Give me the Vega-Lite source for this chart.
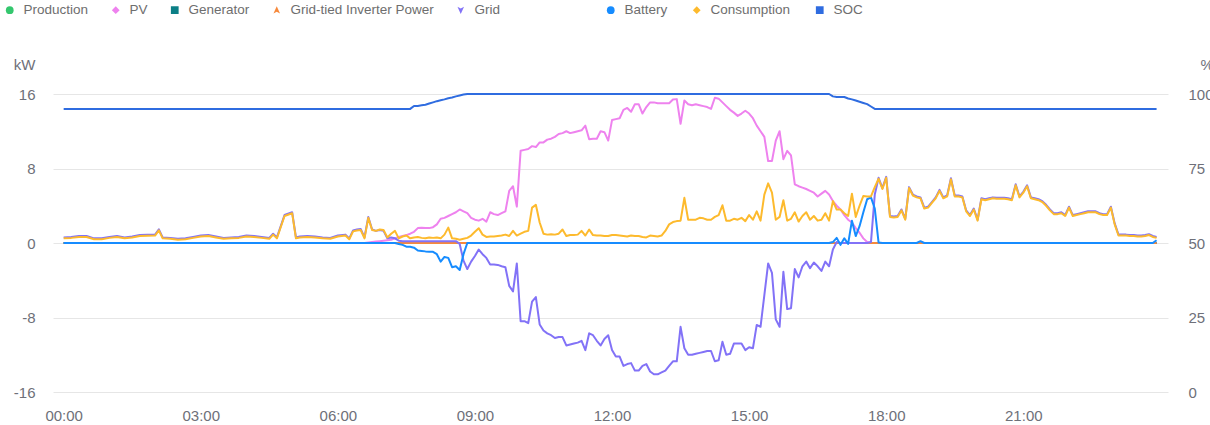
{
"$schema":"https://vega.github.io/schema/vega-lite/v6.json",
"width":1115,"height":298,
"autosize":{"type":"none"},
"padding":{"left":53,"top":94,"right":42,"bottom":33},
"background":"white",
"config":{"view":{"stroke":null},"font":"Liberation Sans",
 "axis":{"labelFont":"Liberation Sans","titleFont":"Liberation Sans","labelColor":"#6E7079","titleColor":"#6E7079","titleFontWeight":"normal","labelFontSize":15,"titleFontSize":15,"domain":false,"ticks":false,"tickSize":0},
 "legend":{"labelFont":"Liberation Sans"}},
"data":{"values":[
{"t":"2024-01-01T00:00","Production":0,"PV":0,"Generator":0,"GTI":0,"Grid":0.6,"Battery":0,"Consumption":0.5,"SOC":95},
{"t":"2024-01-01T00:10","Production":0,"PV":0,"Generator":0,"GTI":0,"Grid":0.65,"Battery":0,"Consumption":0.55,"SOC":95},
{"t":"2024-01-01T00:20","Production":0,"PV":0,"Generator":0,"GTI":0,"Grid":0.75,"Battery":0,"Consumption":0.65,"SOC":95},
{"t":"2024-01-01T00:30","Production":0,"PV":0,"Generator":0,"GTI":0,"Grid":0.75,"Battery":0,"Consumption":0.65,"SOC":95},
{"t":"2024-01-01T00:40","Production":0,"PV":0,"Generator":0,"GTI":0,"Grid":0.5,"Battery":0,"Consumption":0.4,"SOC":95},
{"t":"2024-01-01T00:50","Production":0,"PV":0,"Generator":0,"GTI":0,"Grid":0.5,"Battery":0,"Consumption":0.4,"SOC":95},
{"t":"2024-01-01T01:00","Production":0,"PV":0,"Generator":0,"GTI":0,"Grid":0.65,"Battery":0,"Consumption":0.55,"SOC":95},
{"t":"2024-01-01T01:10","Production":0,"PV":0,"Generator":0,"GTI":0,"Grid":0.75,"Battery":0,"Consumption":0.65,"SOC":95},
{"t":"2024-01-01T01:20","Production":0,"PV":0,"Generator":0,"GTI":0,"Grid":0.6,"Battery":0,"Consumption":0.5,"SOC":95},
{"t":"2024-01-01T01:30","Production":0,"PV":0,"Generator":0,"GTI":0,"Grid":0.7,"Battery":0,"Consumption":0.6,"SOC":95},
{"t":"2024-01-01T01:40","Production":0,"PV":0,"Generator":0,"GTI":0,"Grid":0.85,"Battery":0,"Consumption":0.75,"SOC":95},
{"t":"2024-01-01T01:50","Production":0,"PV":0,"Generator":0,"GTI":0,"Grid":0.88,"Battery":0,"Consumption":0.78,"SOC":95},
{"t":"2024-01-01T02:00","Production":0,"PV":0,"Generator":0,"GTI":0,"Grid":0.9,"Battery":0,"Consumption":0.8,"SOC":95},
{"t":"2024-01-01T02:05","Production":0,"PV":0,"Generator":0,"GTI":0,"Grid":1.46,"Battery":0,"Consumption":1.36,"SOC":95},
{"t":"2024-01-01T02:10","Production":0,"PV":0,"Generator":0,"GTI":0,"Grid":0.6,"Battery":0,"Consumption":0.5,"SOC":95},
{"t":"2024-01-01T02:20","Production":0,"PV":0,"Generator":0,"GTI":0,"Grid":0.55,"Battery":0,"Consumption":0.45,"SOC":95},
{"t":"2024-01-01T02:30","Production":0,"PV":0,"Generator":0,"GTI":0,"Grid":0.45,"Battery":0,"Consumption":0.35,"SOC":95},
{"t":"2024-01-01T02:40","Production":0,"PV":0,"Generator":0,"GTI":0,"Grid":0.5,"Battery":0,"Consumption":0.4,"SOC":95},
{"t":"2024-01-01T02:50","Production":0,"PV":0,"Generator":0,"GTI":0,"Grid":0.65,"Battery":0,"Consumption":0.55,"SOC":95},
{"t":"2024-01-01T03:00","Production":0,"PV":0,"Generator":0,"GTI":0,"Grid":0.8,"Battery":0,"Consumption":0.7,"SOC":95},
{"t":"2024-01-01T03:10","Production":0,"PV":0,"Generator":0,"GTI":0,"Grid":0.85,"Battery":0,"Consumption":0.75,"SOC":95},
{"t":"2024-01-01T03:20","Production":0,"PV":0,"Generator":0,"GTI":0,"Grid":0.7,"Battery":0,"Consumption":0.6,"SOC":95},
{"t":"2024-01-01T03:30","Production":0,"PV":0,"Generator":0,"GTI":0,"Grid":0.55,"Battery":0,"Consumption":0.45,"SOC":95},
{"t":"2024-01-01T03:40","Production":0,"PV":0,"Generator":0,"GTI":0,"Grid":0.6,"Battery":0,"Consumption":0.5,"SOC":95},
{"t":"2024-01-01T03:50","Production":0,"PV":0,"Generator":0,"GTI":0,"Grid":0.65,"Battery":0,"Consumption":0.55,"SOC":95},
{"t":"2024-01-01T04:00","Production":0,"PV":0,"Generator":0,"GTI":0,"Grid":0.8,"Battery":0,"Consumption":0.7,"SOC":95},
{"t":"2024-01-01T04:10","Production":0,"PV":0,"Generator":0,"GTI":0,"Grid":0.75,"Battery":0,"Consumption":0.65,"SOC":95},
{"t":"2024-01-01T04:20","Production":0,"PV":0,"Generator":0,"GTI":0,"Grid":0.65,"Battery":0,"Consumption":0.55,"SOC":95},
{"t":"2024-01-01T04:30","Production":0,"PV":0,"Generator":0,"GTI":0,"Grid":0.55,"Battery":0,"Consumption":0.45,"SOC":95},
{"t":"2024-01-01T04:35","Production":0,"PV":0,"Generator":0,"GTI":0,"Grid":1.0,"Battery":0,"Consumption":0.9,"SOC":95},
{"t":"2024-01-01T04:40","Production":0,"PV":0,"Generator":0,"GTI":0,"Grid":0.6,"Battery":0,"Consumption":0.5,"SOC":95},
{"t":"2024-01-01T04:50","Production":0,"PV":0,"Generator":0,"GTI":0,"Grid":3.0,"Battery":0,"Consumption":2.9,"SOC":95},
{"t":"2024-01-01T05:00","Production":0,"PV":0,"Generator":0,"GTI":0,"Grid":3.3,"Battery":0,"Consumption":3.2,"SOC":95},
{"t":"2024-01-01T05:05","Production":0,"PV":0,"Generator":0,"GTI":0,"Grid":0.6,"Battery":0,"Consumption":0.5,"SOC":95},
{"t":"2024-01-01T05:10","Production":0,"PV":0,"Generator":0,"GTI":0,"Grid":0.7,"Battery":0,"Consumption":0.6,"SOC":95},
{"t":"2024-01-01T05:20","Production":0,"PV":0,"Generator":0,"GTI":0,"Grid":0.75,"Battery":0,"Consumption":0.65,"SOC":95},
{"t":"2024-01-01T05:30","Production":0,"PV":0,"Generator":0,"GTI":0,"Grid":0.7,"Battery":0,"Consumption":0.6,"SOC":95},
{"t":"2024-01-01T05:40","Production":0,"PV":0,"Generator":0,"GTI":0,"Grid":0.6,"Battery":0,"Consumption":0.5,"SOC":95},
{"t":"2024-01-01T05:50","Production":0,"PV":0,"Generator":0,"GTI":0,"Grid":0.55,"Battery":0,"Consumption":0.45,"SOC":95},
{"t":"2024-01-01T06:00","Production":0,"PV":0,"Generator":0,"GTI":0,"Grid":0.8,"Battery":0,"Consumption":0.7,"SOC":95},
{"t":"2024-01-01T06:10","Production":0,"PV":0,"Generator":0,"GTI":0,"Grid":0.9,"Battery":0,"Consumption":0.8,"SOC":95},
{"t":"2024-01-01T06:15","Production":0,"PV":0,"Generator":0,"GTI":0,"Grid":0.5,"Battery":0,"Consumption":0.4,"SOC":95},
{"t":"2024-01-01T06:20","Production":0,"PV":0,"Generator":0,"GTI":0,"Grid":1.35,"Battery":0,"Consumption":1.25,"SOC":95},
{"t":"2024-01-01T06:25","Production":0,"PV":0,"Generator":0,"GTI":0,"Grid":1.45,"Battery":0,"Consumption":1.35,"SOC":95},
{"t":"2024-01-01T06:30","Production":0,"PV":0,"Generator":0,"GTI":0,"Grid":1.5,"Battery":0,"Consumption":1.4,"SOC":95},
{"t":"2024-01-01T06:35","Production":0,"PV":0,"Generator":0,"GTI":0,"Grid":0.6,"Battery":0,"Consumption":0.5,"SOC":95},
{"t":"2024-01-01T06:40","Production":0,"PV":0.05,"Generator":0,"GTI":0,"Grid":2.8,"Battery":0,"Consumption":2.7,"SOC":95},
{"t":"2024-01-01T06:45","Production":0,"PV":0.1,"Generator":0,"GTI":0,"Grid":1.45,"Battery":0,"Consumption":1.4,"SOC":95},
{"t":"2024-01-01T06:50","Production":0,"PV":0.15,"Generator":0,"GTI":0,"Grid":1.3,"Battery":0,"Consumption":1.3,"SOC":95},
{"t":"2024-01-01T06:55","Production":0,"PV":0.2,"Generator":0,"GTI":0,"Grid":1.4,"Battery":0,"Consumption":1.45,"SOC":95},
{"t":"2024-01-01T07:00","Production":0,"PV":0.25,"Generator":0,"GTI":0,"Grid":1.3,"Battery":0,"Consumption":1.4,"SOC":95},
{"t":"2024-01-01T07:05","Production":0,"PV":0.3,"Generator":0,"GTI":0,"Grid":0.5,"Battery":0,"Consumption":0.6,"SOC":95},
{"t":"2024-01-01T07:10","Production":0,"PV":0.35,"Generator":0,"GTI":0,"Grid":0.6,"Battery":0,"Consumption":1.0,"SOC":95},
{"t":"2024-01-01T07:15","Production":0,"PV":0.5,"Generator":0,"GTI":0,"Grid":0.5,"Battery":0,"Consumption":1.3,"SOC":95},
{"t":"2024-01-01T07:20","Production":0,"PV":0.65,"Generator":0,"GTI":0,"Grid":0.25,"Battery":-0.1,"Consumption":0.5,"SOC":95},
{"t":"2024-01-01T07:25","Production":0,"PV":0.75,"Generator":0,"GTI":0,"Grid":0.2,"Battery":-0.2,"Consumption":0.7,"SOC":95},
{"t":"2024-01-01T07:30","Production":0,"PV":0.85,"Generator":0,"GTI":0,"Grid":0.2,"Battery":-0.4,"Consumption":0.8,"SOC":95},
{"t":"2024-01-01T07:35","Production":0,"PV":1.0,"Generator":0,"GTI":0,"Grid":0.2,"Battery":-0.4,"Consumption":0.5,"SOC":95},
{"t":"2024-01-01T07:40","Production":0,"PV":1.2,"Generator":0,"GTI":0,"Grid":0.2,"Battery":-0.5,"Consumption":0.6,"SOC":96},
{"t":"2024-01-01T07:45","Production":0,"PV":1.6,"Generator":0,"GTI":0,"Grid":0.2,"Battery":-0.8,"Consumption":0.65,"SOC":96},
{"t":"2024-01-01T07:50","Production":0,"PV":1.65,"Generator":0,"GTI":0,"Grid":0.2,"Battery":-0.85,"Consumption":0.55,"SOC":96.2},
{"t":"2024-01-01T07:55","Production":0,"PV":1.6,"Generator":0,"GTI":0,"Grid":0.2,"Battery":-0.9,"Consumption":0.5,"SOC":96.4},
{"t":"2024-01-01T08:00","Production":0,"PV":1.6,"Generator":0,"GTI":0,"Grid":0.2,"Battery":-0.93,"Consumption":0.6,"SOC":96.8},
{"t":"2024-01-01T08:05","Production":0,"PV":1.7,"Generator":0,"GTI":0,"Grid":0.2,"Battery":-0.95,"Consumption":0.55,"SOC":97.2},
{"t":"2024-01-01T08:10","Production":0,"PV":2.0,"Generator":0,"GTI":0,"Grid":0.2,"Battery":-1.2,"Consumption":0.6,"SOC":97.6},
{"t":"2024-01-01T08:15","Production":0,"PV":2.6,"Generator":0,"GTI":0,"Grid":0.2,"Battery":-2.0,"Consumption":0.5,"SOC":97.9},
{"t":"2024-01-01T08:20","Production":0,"PV":2.7,"Generator":0,"GTI":0,"Grid":0.2,"Battery":-1.5,"Consumption":0.9,"SOC":98.2},
{"t":"2024-01-01T08:25","Production":0,"PV":2.9,"Generator":0,"GTI":0,"Grid":0.2,"Battery":-1.6,"Consumption":1.65,"SOC":98.6},
{"t":"2024-01-01T08:30","Production":0,"PV":3.1,"Generator":0,"GTI":0,"Grid":0.2,"Battery":-2.6,"Consumption":0.5,"SOC":98.8},
{"t":"2024-01-01T08:35","Production":0,"PV":3.3,"Generator":0,"GTI":0,"Grid":0.2,"Battery":-2.5,"Consumption":0.45,"SOC":99.2},
{"t":"2024-01-01T08:40","Production":0,"PV":3.6,"Generator":0,"GTI":0,"Grid":-0.1,"Battery":-2.9,"Consumption":0.35,"SOC":99.5},
{"t":"2024-01-01T08:45","Production":0,"PV":3.4,"Generator":0,"GTI":0,"Grid":-1.9,"Battery":-1.2,"Consumption":0.45,"SOC":99.8},
{"t":"2024-01-01T08:50","Production":0,"PV":3.2,"Generator":0,"GTI":0,"Grid":-2.8,"Battery":0,"Consumption":0.55,"SOC":100},
{"t":"2024-01-01T08:55","Production":0,"PV":2.7,"Generator":0,"GTI":0,"Grid":-2.0,"Battery":0,"Consumption":0.8,"SOC":100},
{"t":"2024-01-01T09:00","Production":0,"PV":2.5,"Generator":0,"GTI":0,"Grid":-1.4,"Battery":0,"Consumption":1.2,"SOC":100},
{"t":"2024-01-01T09:05","Production":0,"PV":2.4,"Generator":0,"GTI":0,"Grid":-0.7,"Battery":0,"Consumption":1.58,"SOC":100},
{"t":"2024-01-01T09:10","Production":0,"PV":2.6,"Generator":0,"GTI":0,"Grid":-1.2,"Battery":0,"Consumption":0.9,"SOC":100},
{"t":"2024-01-01T09:15","Production":0,"PV":2.3,"Generator":0,"GTI":0,"Grid":-1.6,"Battery":0,"Consumption":0.65,"SOC":100},
{"t":"2024-01-01T09:20","Production":0,"PV":3.3,"Generator":0,"GTI":0,"Grid":-2.3,"Battery":0,"Consumption":0.7,"SOC":100},
{"t":"2024-01-01T09:25","Production":0,"PV":3.1,"Generator":0,"GTI":0,"Grid":-2.3,"Battery":0,"Consumption":0.7,"SOC":100},
{"t":"2024-01-01T09:30","Production":0,"PV":3.0,"Generator":0,"GTI":0,"Grid":-2.35,"Battery":0,"Consumption":0.75,"SOC":100},
{"t":"2024-01-01T09:35","Production":0,"PV":3.2,"Generator":0,"GTI":0,"Grid":-2.5,"Battery":0,"Consumption":0.8,"SOC":100},
{"t":"2024-01-01T09:40","Production":0,"PV":3.4,"Generator":0,"GTI":0,"Grid":-2.6,"Battery":0,"Consumption":0.9,"SOC":100},
{"t":"2024-01-01T09:45","Production":0,"PV":5.6,"Generator":0,"GTI":0,"Grid":-4.6,"Battery":0,"Consumption":0.75,"SOC":100},
{"t":"2024-01-01T09:50","Production":0,"PV":6.1,"Generator":0,"GTI":0,"Grid":-5.2,"Battery":0,"Consumption":1.3,"SOC":100},
{"t":"2024-01-01T09:55","Production":0,"PV":3.9,"Generator":0,"GTI":0,"Grid":-2.2,"Battery":0,"Consumption":0.8,"SOC":100},
{"t":"2024-01-01T10:00","Production":0,"PV":9.9,"Generator":0,"GTI":0,"Grid":-8.4,"Battery":0,"Consumption":1.0,"SOC":100},
{"t":"2024-01-01T10:05","Production":0,"PV":10.0,"Generator":0,"GTI":0,"Grid":-8.4,"Battery":0,"Consumption":1.2,"SOC":100},
{"t":"2024-01-01T10:10","Production":0,"PV":10.1,"Generator":0,"GTI":0,"Grid":-8.6,"Battery":0,"Consumption":1.3,"SOC":100},
{"t":"2024-01-01T10:15","Production":0,"PV":10.4,"Generator":0,"GTI":0,"Grid":-6.3,"Battery":0,"Consumption":3.8,"SOC":100},
{"t":"2024-01-01T10:20","Production":0,"PV":10.3,"Generator":0,"GTI":0,"Grid":-5.8,"Battery":0,"Consumption":4.1,"SOC":100},
{"t":"2024-01-01T10:25","Production":0,"PV":10.8,"Generator":0,"GTI":0,"Grid":-8.75,"Battery":0,"Consumption":2.2,"SOC":100},
{"t":"2024-01-01T10:30","Production":0,"PV":10.8,"Generator":0,"GTI":0,"Grid":-9.4,"Battery":0,"Consumption":1.0,"SOC":100},
{"t":"2024-01-01T10:35","Production":0,"PV":11.1,"Generator":0,"GTI":0,"Grid":-9.7,"Battery":0,"Consumption":0.9,"SOC":100},
{"t":"2024-01-01T10:40","Production":0,"PV":11.2,"Generator":0,"GTI":0,"Grid":-9.9,"Battery":0,"Consumption":0.95,"SOC":100},
{"t":"2024-01-01T10:45","Production":0,"PV":11.4,"Generator":0,"GTI":0,"Grid":-10.2,"Battery":0,"Consumption":0.9,"SOC":100},
{"t":"2024-01-01T10:50","Production":0,"PV":11.7,"Generator":0,"GTI":0,"Grid":-10.1,"Battery":0,"Consumption":1.0,"SOC":100},
{"t":"2024-01-01T10:55","Production":0,"PV":11.8,"Generator":0,"GTI":0,"Grid":-10.1,"Battery":0,"Consumption":1.45,"SOC":100},
{"t":"2024-01-01T11:00","Production":0,"PV":12.0,"Generator":0,"GTI":0,"Grid":-11.0,"Battery":0,"Consumption":0.75,"SOC":100},
{"t":"2024-01-01T11:05","Production":0,"PV":11.8,"Generator":0,"GTI":0,"Grid":-10.9,"Battery":0,"Consumption":0.85,"SOC":100},
{"t":"2024-01-01T11:10","Production":0,"PV":11.9,"Generator":0,"GTI":0,"Grid":-10.8,"Battery":0,"Consumption":0.85,"SOC":100},
{"t":"2024-01-01T11:15","Production":0,"PV":12.0,"Generator":0,"GTI":0,"Grid":-10.7,"Battery":0,"Consumption":0.9,"SOC":100},
{"t":"2024-01-01T11:20","Production":0,"PV":12.1,"Generator":0,"GTI":0,"Grid":-10.5,"Battery":0,"Consumption":1.3,"SOC":100},
{"t":"2024-01-01T11:25","Production":0,"PV":12.6,"Generator":0,"GTI":0,"Grid":-11.5,"Battery":0,"Consumption":0.8,"SOC":100},
{"t":"2024-01-01T11:30","Production":0,"PV":11.15,"Generator":0,"GTI":0,"Grid":-9.7,"Battery":0,"Consumption":1.45,"SOC":100},
{"t":"2024-01-01T11:35","Production":0,"PV":11.2,"Generator":0,"GTI":0,"Grid":-9.9,"Battery":0,"Consumption":0.85,"SOC":100},
{"t":"2024-01-01T11:40","Production":0,"PV":11.2,"Generator":0,"GTI":0,"Grid":-10.5,"Battery":0,"Consumption":0.8,"SOC":100},
{"t":"2024-01-01T11:45","Production":0,"PV":12.0,"Generator":0,"GTI":0,"Grid":-11.0,"Battery":0,"Consumption":0.8,"SOC":100},
{"t":"2024-01-01T11:50","Production":0,"PV":11.9,"Generator":0,"GTI":0,"Grid":-10.3,"Battery":0,"Consumption":0.75,"SOC":100},
{"t":"2024-01-01T11:55","Production":0,"PV":11.0,"Generator":0,"GTI":0,"Grid":-9.9,"Battery":0,"Consumption":0.75,"SOC":100},
{"t":"2024-01-01T12:00","Production":0,"PV":13.2,"Generator":0,"GTI":0,"Grid":-11.5,"Battery":0,"Consumption":0.85,"SOC":100},
{"t":"2024-01-01T12:05","Production":0,"PV":13.3,"Generator":0,"GTI":0,"Grid":-12.2,"Battery":0,"Consumption":0.85,"SOC":100},
{"t":"2024-01-01T12:10","Production":0,"PV":13.4,"Generator":0,"GTI":0,"Grid":-12.2,"Battery":0,"Consumption":0.8,"SOC":100},
{"t":"2024-01-01T12:15","Production":0,"PV":14.3,"Generator":0,"GTI":0,"Grid":-13.2,"Battery":0,"Consumption":0.75,"SOC":100},
{"t":"2024-01-01T12:20","Production":0,"PV":14.5,"Generator":0,"GTI":0,"Grid":-13.0,"Battery":0,"Consumption":0.7,"SOC":100},
{"t":"2024-01-01T12:25","Production":0,"PV":14.1,"Generator":0,"GTI":0,"Grid":-12.9,"Battery":0,"Consumption":0.8,"SOC":100},
{"t":"2024-01-01T12:30","Production":0,"PV":14.9,"Generator":0,"GTI":0,"Grid":-13.7,"Battery":0,"Consumption":0.75,"SOC":100},
{"t":"2024-01-01T12:35","Production":0,"PV":14.9,"Generator":0,"GTI":0,"Grid":-13.7,"Battery":0,"Consumption":0.75,"SOC":100},
{"t":"2024-01-01T12:40","Production":0,"PV":13.9,"Generator":0,"GTI":0,"Grid":-13.2,"Battery":0,"Consumption":0.65,"SOC":100},
{"t":"2024-01-01T12:45","Production":0,"PV":14.6,"Generator":0,"GTI":0,"Grid":-13.0,"Battery":0,"Consumption":0.6,"SOC":100},
{"t":"2024-01-01T12:50","Production":0,"PV":15.1,"Generator":0,"GTI":0,"Grid":-13.8,"Battery":0,"Consumption":0.8,"SOC":100},
{"t":"2024-01-01T12:55","Production":0,"PV":15.1,"Generator":0,"GTI":0,"Grid":-14.1,"Battery":0,"Consumption":0.75,"SOC":100},
{"t":"2024-01-01T13:00","Production":0,"PV":15.0,"Generator":0,"GTI":0,"Grid":-14.1,"Battery":0,"Consumption":0.7,"SOC":100},
{"t":"2024-01-01T13:05","Production":0,"PV":15.0,"Generator":0,"GTI":0,"Grid":-13.9,"Battery":0,"Consumption":0.8,"SOC":100},
{"t":"2024-01-01T13:10","Production":0,"PV":15.0,"Generator":0,"GTI":0,"Grid":-13.7,"Battery":0,"Consumption":1.3,"SOC":100},
{"t":"2024-01-01T13:15","Production":0,"PV":15.0,"Generator":0,"GTI":0,"Grid":-13.2,"Battery":0,"Consumption":2.0,"SOC":100},
{"t":"2024-01-01T13:20","Production":0,"PV":15.4,"Generator":0,"GTI":0,"Grid":-12.7,"Battery":0,"Consumption":2.25,"SOC":100},
{"t":"2024-01-01T13:25","Production":0,"PV":15.45,"Generator":0,"GTI":0,"Grid":-12.7,"Battery":0,"Consumption":2.35,"SOC":100},
{"t":"2024-01-01T13:30","Production":0,"PV":12.8,"Generator":0,"GTI":0,"Grid":-9.0,"Battery":0,"Consumption":2.4,"SOC":100},
{"t":"2024-01-01T13:35","Production":0,"PV":15.3,"Generator":0,"GTI":0,"Grid":-11.3,"Battery":0,"Consumption":4.85,"SOC":100},
{"t":"2024-01-01T13:40","Production":0,"PV":14.9,"Generator":0,"GTI":0,"Grid":-12.0,"Battery":0,"Consumption":2.5,"SOC":100},
{"t":"2024-01-01T13:45","Production":0,"PV":14.8,"Generator":0,"GTI":0,"Grid":-12.0,"Battery":0,"Consumption":2.5,"SOC":100},
{"t":"2024-01-01T13:50","Production":0,"PV":14.9,"Generator":0,"GTI":0,"Grid":-11.9,"Battery":0,"Consumption":2.5,"SOC":100},
{"t":"2024-01-01T13:55","Production":0,"PV":14.8,"Generator":0,"GTI":0,"Grid":-11.8,"Battery":0,"Consumption":2.7,"SOC":100},
{"t":"2024-01-01T14:00","Production":0,"PV":14.7,"Generator":0,"GTI":0,"Grid":-11.7,"Battery":0,"Consumption":2.65,"SOC":100},
{"t":"2024-01-01T14:05","Production":0,"PV":14.6,"Generator":0,"GTI":0,"Grid":-11.6,"Battery":0,"Consumption":2.5,"SOC":100},
{"t":"2024-01-01T14:10","Production":0,"PV":14.4,"Generator":0,"GTI":0,"Grid":-11.6,"Battery":0,"Consumption":2.5,"SOC":100},
{"t":"2024-01-01T14:15","Production":0,"PV":15.6,"Generator":0,"GTI":0,"Grid":-12.7,"Battery":0,"Consumption":2.8,"SOC":100},
{"t":"2024-01-01T14:20","Production":0,"PV":15.5,"Generator":0,"GTI":0,"Grid":-12.6,"Battery":0,"Consumption":3.0,"SOC":100},
{"t":"2024-01-01T14:25","Production":0,"PV":15.1,"Generator":0,"GTI":0,"Grid":-10.6,"Battery":0,"Consumption":4.05,"SOC":100},
{"t":"2024-01-01T14:30","Production":0,"PV":14.7,"Generator":0,"GTI":0,"Grid":-12.0,"Battery":0,"Consumption":2.4,"SOC":100},
{"t":"2024-01-01T14:35","Production":0,"PV":14.3,"Generator":0,"GTI":0,"Grid":-11.9,"Battery":0,"Consumption":2.4,"SOC":100},
{"t":"2024-01-01T14:40","Production":0,"PV":14.0,"Generator":0,"GTI":0,"Grid":-10.8,"Battery":0,"Consumption":2.6,"SOC":100},
{"t":"2024-01-01T14:45","Production":0,"PV":13.65,"Generator":0,"GTI":0,"Grid":-10.8,"Battery":0,"Consumption":2.5,"SOC":100},
{"t":"2024-01-01T14:50","Production":0,"PV":13.9,"Generator":0,"GTI":0,"Grid":-10.8,"Battery":0,"Consumption":2.7,"SOC":100},
{"t":"2024-01-01T14:55","Production":0,"PV":14.2,"Generator":0,"GTI":0,"Grid":-11.5,"Battery":0,"Consumption":2.35,"SOC":100},
{"t":"2024-01-01T15:00","Production":0,"PV":13.9,"Generator":0,"GTI":0,"Grid":-11.2,"Battery":0,"Consumption":3.0,"SOC":100},
{"t":"2024-01-01T15:05","Production":0,"PV":13.4,"Generator":0,"GTI":0,"Grid":-11.3,"Battery":0,"Consumption":2.5,"SOC":100},
{"t":"2024-01-01T15:10","Production":0,"PV":12.6,"Generator":0,"GTI":0,"Grid":-8.8,"Battery":0,"Consumption":3.4,"SOC":100},
{"t":"2024-01-01T15:15","Production":0,"PV":12.0,"Generator":0,"GTI":0,"Grid":-9.0,"Battery":0,"Consumption":2.4,"SOC":100},
{"t":"2024-01-01T15:20","Production":0,"PV":11.4,"Generator":0,"GTI":0,"Grid":-5.6,"Battery":0,"Consumption":5.2,"SOC":100},
{"t":"2024-01-01T15:25","Production":0,"PV":8.8,"Generator":0,"GTI":0,"Grid":-2.2,"Battery":0,"Consumption":6.4,"SOC":100},
{"t":"2024-01-01T15:30","Production":0,"PV":8.8,"Generator":0,"GTI":0,"Grid":-3.2,"Battery":0,"Consumption":5.4,"SOC":100},
{"t":"2024-01-01T15:35","Production":0,"PV":11.0,"Generator":0,"GTI":0,"Grid":-8.2,"Battery":0,"Consumption":2.5,"SOC":100},
{"t":"2024-01-01T15:40","Production":0,"PV":12.0,"Generator":0,"GTI":0,"Grid":-9.0,"Battery":0,"Consumption":2.8,"SOC":100},
{"t":"2024-01-01T15:45","Production":0,"PV":9.0,"Generator":0,"GTI":0,"Grid":-3.1,"Battery":0,"Consumption":4.6,"SOC":100},
{"t":"2024-01-01T15:50","Production":0,"PV":9.9,"Generator":0,"GTI":0,"Grid":-7.1,"Battery":0,"Consumption":2.4,"SOC":100},
{"t":"2024-01-01T15:55","Production":0,"PV":9.4,"Generator":0,"GTI":0,"Grid":-7.0,"Battery":0,"Consumption":2.6,"SOC":100},
{"t":"2024-01-01T16:00","Production":0,"PV":6.3,"Generator":0,"GTI":0,"Grid":-2.8,"Battery":0,"Consumption":3.3,"SOC":100},
{"t":"2024-01-01T16:05","Production":0,"PV":6.1,"Generator":0,"GTI":0,"Grid":-3.7,"Battery":0,"Consumption":2.3,"SOC":100},
{"t":"2024-01-01T16:10","Production":0,"PV":5.95,"Generator":0,"GTI":0,"Grid":-2.5,"Battery":0,"Consumption":2.9,"SOC":100},
{"t":"2024-01-01T16:15","Production":0,"PV":5.8,"Generator":0,"GTI":0,"Grid":-2.0,"Battery":0,"Consumption":3.3,"SOC":100},
{"t":"2024-01-01T16:20","Production":0,"PV":5.6,"Generator":0,"GTI":0,"Grid":-2.7,"Battery":0,"Consumption":2.5,"SOC":100},
{"t":"2024-01-01T16:25","Production":0,"PV":5.4,"Generator":0,"GTI":0,"Grid":-2.1,"Battery":0,"Consumption":2.9,"SOC":100},
{"t":"2024-01-01T16:30","Production":0,"PV":5.0,"Generator":0,"GTI":0,"Grid":-2.5,"Battery":0,"Consumption":2.4,"SOC":100},
{"t":"2024-01-01T16:35","Production":0,"PV":5.3,"Generator":0,"GTI":0,"Grid":-3.0,"Battery":0,"Consumption":2.5,"SOC":100},
{"t":"2024-01-01T16:40","Production":0,"PV":5.6,"Generator":0,"GTI":0,"Grid":-2.0,"Battery":0,"Consumption":3.2,"SOC":100},
{"t":"2024-01-01T16:45","Production":0,"PV":5.2,"Generator":0,"GTI":0,"Grid":-2.5,"Battery":0,"Consumption":2.4,"SOC":100},
{"t":"2024-01-01T16:50","Production":0,"PV":4.5,"Generator":0,"GTI":0,"Grid":-0.7,"Battery":0.1,"Consumption":4.5,"SOC":99.2},
{"t":"2024-01-01T16:55","Production":0,"PV":4.0,"Generator":0,"GTI":0,"Grid":0.1,"Battery":0.55,"Consumption":3.6,"SOC":99},
{"t":"2024-01-01T17:00","Production":0,"PV":3.6,"Generator":0,"GTI":0,"Grid":0,"Battery":-0.2,"Consumption":3.6,"SOC":99},
{"t":"2024-01-01T17:05","Production":0,"PV":3.0,"Generator":0,"GTI":0,"Grid":0,"Battery":0.5,"Consumption":3.2,"SOC":99},
{"t":"2024-01-01T17:10","Production":0,"PV":2.5,"Generator":0,"GTI":0,"Grid":0,"Battery":-0.1,"Consumption":2.9,"SOC":98.5},
{"t":"2024-01-01T17:15","Production":0,"PV":2.2,"Generator":0,"GTI":0,"Grid":0,"Battery":2.4,"Consumption":5.3,"SOC":98.2},
{"t":"2024-01-01T17:20","Production":0,"PV":1.6,"Generator":0,"GTI":0,"Grid":0,"Battery":0.75,"Consumption":2.8,"SOC":97.8},
{"t":"2024-01-01T17:25","Production":0,"PV":1.1,"Generator":0,"GTI":0,"Grid":0,"Battery":1.8,"Consumption":4.0,"SOC":97.4},
{"t":"2024-01-01T17:30","Production":0,"PV":0.5,"Generator":0,"GTI":0,"Grid":0,"Battery":3.3,"Consumption":5.05,"SOC":97.0},
{"t":"2024-01-01T17:35","Production":0,"PV":0.1,"Generator":0,"GTI":0,"Grid":0,"Battery":4.7,"Consumption":5.0,"SOC":96.6},
{"t":"2024-01-01T17:40","Production":0,"PV":0,"Generator":0,"GTI":0,"Grid":0.1,"Battery":4.9,"Consumption":5.0,"SOC":95.8},
{"t":"2024-01-01T17:45","Production":0,"PV":0,"Generator":0,"GTI":0,"Grid":5.2,"Battery":3.7,"Consumption":6.0,"SOC":95},
{"t":"2024-01-01T17:50","Production":0,"PV":0,"Generator":0,"GTI":0,"Grid":7.0,"Battery":0.05,"Consumption":6.9,"SOC":95},
{"t":"2024-01-01T17:55","Production":0,"PV":0,"Generator":0,"GTI":0,"Grid":5.9,"Battery":0,"Consumption":5.8,"SOC":95},
{"t":"2024-01-01T18:00","Production":0,"PV":0,"Generator":0,"GTI":0,"Grid":7.1,"Battery":0,"Consumption":7.0,"SOC":95},
{"t":"2024-01-01T18:05","Production":0,"PV":0,"Generator":0,"GTI":0,"Grid":2.9,"Battery":0,"Consumption":2.8,"SOC":95},
{"t":"2024-01-01T18:10","Production":0,"PV":0,"Generator":0,"GTI":0,"Grid":2.85,"Battery":0,"Consumption":2.75,"SOC":95},
{"t":"2024-01-01T18:15","Production":0,"PV":0,"Generator":0,"GTI":0,"Grid":2.9,"Battery":0,"Consumption":2.8,"SOC":95},
{"t":"2024-01-01T18:20","Production":0,"PV":0,"Generator":0,"GTI":0,"Grid":3.6,"Battery":0,"Consumption":3.5,"SOC":95},
{"t":"2024-01-01T18:25","Production":0,"PV":0,"Generator":0,"GTI":0,"Grid":2.6,"Battery":0,"Consumption":2.5,"SOC":95},
{"t":"2024-01-01T18:30","Production":0,"PV":0,"Generator":0,"GTI":0,"Grid":6.0,"Battery":0,"Consumption":5.9,"SOC":95},
{"t":"2024-01-01T18:35","Production":0,"PV":0,"Generator":0,"GTI":0,"Grid":5.2,"Battery":0,"Consumption":5.1,"SOC":95},
{"t":"2024-01-01T18:40","Production":0,"PV":0,"Generator":0,"GTI":0,"Grid":5.0,"Battery":0,"Consumption":4.9,"SOC":95},
{"t":"2024-01-01T18:45","Production":0,"PV":0,"Generator":0,"GTI":0,"Grid":4.9,"Battery":0.2,"Consumption":4.8,"SOC":95},
{"t":"2024-01-01T18:50","Production":0,"PV":0,"Generator":0,"GTI":0,"Grid":3.8,"Battery":0,"Consumption":3.7,"SOC":95},
{"t":"2024-01-01T18:55","Production":0,"PV":0,"Generator":0,"GTI":0,"Grid":3.9,"Battery":0,"Consumption":3.8,"SOC":95},
{"t":"2024-01-01T19:00","Production":0,"PV":0,"Generator":0,"GTI":0,"Grid":4.4,"Battery":0,"Consumption":4.3,"SOC":95},
{"t":"2024-01-01T19:05","Production":0,"PV":0,"Generator":0,"GTI":0,"Grid":4.9,"Battery":0,"Consumption":4.8,"SOC":95},
{"t":"2024-01-01T19:10","Production":0,"PV":0,"Generator":0,"GTI":0,"Grid":5.7,"Battery":0,"Consumption":5.6,"SOC":95},
{"t":"2024-01-01T19:15","Production":0,"PV":0,"Generator":0,"GTI":0,"Grid":4.9,"Battery":0,"Consumption":4.8,"SOC":95},
{"t":"2024-01-01T19:20","Production":0,"PV":0,"Generator":0,"GTI":0,"Grid":5.1,"Battery":0,"Consumption":5.0,"SOC":95},
{"t":"2024-01-01T19:25","Production":0,"PV":0,"Generator":0,"GTI":0,"Grid":6.95,"Battery":0,"Consumption":6.85,"SOC":95},
{"t":"2024-01-01T19:30","Production":0,"PV":0,"Generator":0,"GTI":0,"Grid":5.1,"Battery":0,"Consumption":5.0,"SOC":95},
{"t":"2024-01-01T19:35","Production":0,"PV":0,"Generator":0,"GTI":0,"Grid":5.1,"Battery":0,"Consumption":5.0,"SOC":95},
{"t":"2024-01-01T19:40","Production":0,"PV":0,"Generator":0,"GTI":0,"Grid":5.0,"Battery":0,"Consumption":4.9,"SOC":95},
{"t":"2024-01-01T19:45","Production":0,"PV":0,"Generator":0,"GTI":0,"Grid":3.5,"Battery":0,"Consumption":3.4,"SOC":95},
{"t":"2024-01-01T19:50","Production":0,"PV":0,"Generator":0,"GTI":0,"Grid":3.0,"Battery":0,"Consumption":2.9,"SOC":95},
{"t":"2024-01-01T19:55","Production":0,"PV":0,"Generator":0,"GTI":0,"Grid":3.7,"Battery":0,"Consumption":3.6,"SOC":95},
{"t":"2024-01-01T20:00","Production":0,"PV":0,"Generator":0,"GTI":0,"Grid":2.5,"Battery":0,"Consumption":2.4,"SOC":95},
{"t":"2024-01-01T20:05","Production":0,"PV":0,"Generator":0,"GTI":0,"Grid":4.8,"Battery":0,"Consumption":4.7,"SOC":95},
{"t":"2024-01-01T20:10","Production":0,"PV":0,"Generator":0,"GTI":0,"Grid":4.7,"Battery":0,"Consumption":4.6,"SOC":95},
{"t":"2024-01-01T20:15","Production":0,"PV":0,"Generator":0,"GTI":0,"Grid":4.8,"Battery":0,"Consumption":4.7,"SOC":95},
{"t":"2024-01-01T20:20","Production":0,"PV":0,"Generator":0,"GTI":0,"Grid":4.9,"Battery":0,"Consumption":4.8,"SOC":95},
{"t":"2024-01-01T20:25","Production":0,"PV":0,"Generator":0,"GTI":0,"Grid":4.85,"Battery":0,"Consumption":4.75,"SOC":95},
{"t":"2024-01-01T20:30","Production":0,"PV":0,"Generator":0,"GTI":0,"Grid":4.85,"Battery":0,"Consumption":4.75,"SOC":95},
{"t":"2024-01-01T20:35","Production":0,"PV":0,"Generator":0,"GTI":0,"Grid":4.85,"Battery":0,"Consumption":4.75,"SOC":95},
{"t":"2024-01-01T20:40","Production":0,"PV":0,"Generator":0,"GTI":0,"Grid":4.8,"Battery":0,"Consumption":4.7,"SOC":95},
{"t":"2024-01-01T20:45","Production":0,"PV":0,"Generator":0,"GTI":0,"Grid":4.7,"Battery":0,"Consumption":4.6,"SOC":95},
{"t":"2024-01-01T20:50","Production":0,"PV":0,"Generator":0,"GTI":0,"Grid":6.3,"Battery":0,"Consumption":6.2,"SOC":95},
{"t":"2024-01-01T20:55","Production":0,"PV":0,"Generator":0,"GTI":0,"Grid":5.0,"Battery":0,"Consumption":4.9,"SOC":95},
{"t":"2024-01-01T21:00","Production":0,"PV":0,"Generator":0,"GTI":0,"Grid":5.5,"Battery":0,"Consumption":5.4,"SOC":95},
{"t":"2024-01-01T21:05","Production":0,"PV":0,"Generator":0,"GTI":0,"Grid":6.2,"Battery":0,"Consumption":6.1,"SOC":95},
{"t":"2024-01-01T21:10","Production":0,"PV":0,"Generator":0,"GTI":0,"Grid":4.9,"Battery":0,"Consumption":4.8,"SOC":95},
{"t":"2024-01-01T21:15","Production":0,"PV":0,"Generator":0,"GTI":0,"Grid":4.8,"Battery":0,"Consumption":4.7,"SOC":95},
{"t":"2024-01-01T21:20","Production":0,"PV":0,"Generator":0,"GTI":0,"Grid":4.7,"Battery":0,"Consumption":4.6,"SOC":95},
{"t":"2024-01-01T21:25","Production":0,"PV":0,"Generator":0,"GTI":0,"Grid":4.5,"Battery":0,"Consumption":4.4,"SOC":95},
{"t":"2024-01-01T21:30","Production":0,"PV":0,"Generator":0,"GTI":0,"Grid":4.1,"Battery":0,"Consumption":4.0,"SOC":95},
{"t":"2024-01-01T21:35","Production":0,"PV":0,"Generator":0,"GTI":0,"Grid":3.6,"Battery":0,"Consumption":3.5,"SOC":95},
{"t":"2024-01-01T21:40","Production":0,"PV":0,"Generator":0,"GTI":0,"Grid":3.2,"Battery":0,"Consumption":3.1,"SOC":95},
{"t":"2024-01-01T21:45","Production":0,"PV":0,"Generator":0,"GTI":0,"Grid":3.2,"Battery":0,"Consumption":3.1,"SOC":95},
{"t":"2024-01-01T21:50","Production":0,"PV":0,"Generator":0,"GTI":0,"Grid":3.3,"Battery":0,"Consumption":3.2,"SOC":95},
{"t":"2024-01-01T21:55","Production":0,"PV":0,"Generator":0,"GTI":0,"Grid":3.0,"Battery":0,"Consumption":2.9,"SOC":95},
{"t":"2024-01-01T22:00","Production":0,"PV":0,"Generator":0,"GTI":0,"Grid":3.9,"Battery":0,"Consumption":3.8,"SOC":95},
{"t":"2024-01-01T22:05","Production":0,"PV":0,"Generator":0,"GTI":0,"Grid":3.0,"Battery":0,"Consumption":2.9,"SOC":95},
{"t":"2024-01-01T22:10","Production":0,"PV":0,"Generator":0,"GTI":0,"Grid":3.1,"Battery":0,"Consumption":3.0,"SOC":95},
{"t":"2024-01-01T22:15","Production":0,"PV":0,"Generator":0,"GTI":0,"Grid":3.2,"Battery":0,"Consumption":3.1,"SOC":95},
{"t":"2024-01-01T22:20","Production":0,"PV":0,"Generator":0,"GTI":0,"Grid":3.3,"Battery":0,"Consumption":3.2,"SOC":95},
{"t":"2024-01-01T22:25","Production":0,"PV":0,"Generator":0,"GTI":0,"Grid":3.4,"Battery":0,"Consumption":3.3,"SOC":95},
{"t":"2024-01-01T22:30","Production":0,"PV":0,"Generator":0,"GTI":0,"Grid":3.4,"Battery":0,"Consumption":3.3,"SOC":95},
{"t":"2024-01-01T22:35","Production":0,"PV":0,"Generator":0,"GTI":0,"Grid":3.4,"Battery":0,"Consumption":3.3,"SOC":95},
{"t":"2024-01-01T22:40","Production":0,"PV":0,"Generator":0,"GTI":0,"Grid":3.2,"Battery":0,"Consumption":3.1,"SOC":95},
{"t":"2024-01-01T22:45","Production":0,"PV":0,"Generator":0,"GTI":0,"Grid":3.1,"Battery":0,"Consumption":3.0,"SOC":95},
{"t":"2024-01-01T22:50","Production":0,"PV":0,"Generator":0,"GTI":0,"Grid":3.1,"Battery":0,"Consumption":3.0,"SOC":95},
{"t":"2024-01-01T22:55","Production":0,"PV":0,"Generator":0,"GTI":0,"Grid":3.9,"Battery":0,"Consumption":3.8,"SOC":95},
{"t":"2024-01-01T23:00","Production":0,"PV":0,"Generator":0,"GTI":0,"Grid":2.1,"Battery":0,"Consumption":2.0,"SOC":95},
{"t":"2024-01-01T23:05","Production":0,"PV":0,"Generator":0,"GTI":0,"Grid":0.9,"Battery":0,"Consumption":0.8,"SOC":95},
{"t":"2024-01-01T23:10","Production":0,"PV":0,"Generator":0,"GTI":0,"Grid":0.9,"Battery":0,"Consumption":0.8,"SOC":95},
{"t":"2024-01-01T23:15","Production":0,"PV":0,"Generator":0,"GTI":0,"Grid":0.9,"Battery":0,"Consumption":0.8,"SOC":95},
{"t":"2024-01-01T23:20","Production":0,"PV":0,"Generator":0,"GTI":0,"Grid":0.85,"Battery":0,"Consumption":0.75,"SOC":95},
{"t":"2024-01-01T23:25","Production":0,"PV":0,"Generator":0,"GTI":0,"Grid":0.85,"Battery":0,"Consumption":0.75,"SOC":95},
{"t":"2024-01-01T23:30","Production":0,"PV":0,"Generator":0,"GTI":0,"Grid":0.8,"Battery":0,"Consumption":0.7,"SOC":95},
{"t":"2024-01-01T23:35","Production":0,"PV":0,"Generator":0,"GTI":0,"Grid":0.8,"Battery":0,"Consumption":0.7,"SOC":95},
{"t":"2024-01-01T23:40","Production":0,"PV":0,"Generator":0,"GTI":0,"Grid":0.85,"Battery":0,"Consumption":0.75,"SOC":95},
{"t":"2024-01-01T23:45","Production":0,"PV":0,"Generator":0,"GTI":0,"Grid":0.95,"Battery":0,"Consumption":0.85,"SOC":95},
{"t":"2024-01-01T23:50","Production":0,"PV":0,"Generator":0,"GTI":0,"Grid":0.75,"Battery":0,"Consumption":0.65,"SOC":95},
{"t":"2024-01-01T23:55","Production":0,"PV":0,"Generator":0,"GTI":0,"Grid":0.65,"Battery":0.3,"Consumption":0.55,"SOC":95}
]},
"layer":[
 {"layer":[
  {"transform":[{"fold":["Production","PV","Generator","GTI","Grid"],"as":["series","kw"]}],
   "mark":{"type":"line","strokeWidth":2,"strokeJoin":"round"},
   "encoding":{
    "x":{"field":"t","type":"temporal","scale":{"domain":[{"year":2023,"month":12,"date":31,"hours":23,"minutes":46},{"year":2024,"month":1,"date":2,"hours":0,"minutes":10}],"nice":false},
     "axis":{"title":null,"grid":false,"format":"%H:%M","labelPadding":16,"values":[{"year":2024,"month":1,"date":1,"hours":0},{"year":2024,"month":1,"date":1,"hours":3},{"year":2024,"month":1,"date":1,"hours":6},{"year":2024,"month":1,"date":1,"hours":9},{"year":2024,"month":1,"date":1,"hours":12},{"year":2024,"month":1,"date":1,"hours":15},{"year":2024,"month":1,"date":1,"hours":18},{"year":2024,"month":1,"date":1,"hours":21}]}},
    "y":{"field":"kw","type":"quantitative","scale":{"domain":[-16,16],"nice":false,"zero":false},
     "axis":{"title":"kW","titleAngle":0,"titleX":-18,"titleY":-30,"titleAlign":"right","titleBaseline":"middle","values":[-16,-8,0,8,16],"labelExpr":"'' + datum.value","grid":true,"gridColor":"#E6E6E6","labelPadding":18}},
    "color":{"field":"series","type":"nominal",
     "scale":{"domain":["Production","PV","Generator","GTI","Grid"],"range":["#34C76E","#EE82EE","#0B7F86","#F7893B","#8272F7"]},
     "legend":{"orient":"none","legendX":-50,"legendY":-91,"direction":"horizontal","columns":5,"title":null,"padding":0,
      "labelExpr":"datum.label == 'GTI' ? 'Grid-tied Inverter Power' : datum.label",
      "symbolSize":60,"symbolStrokeWidth":0,"labelFontSize":13.5,"labelColor":"#6E6E6E","labelOffset":7,"columnPadding":20,
      "encode":{"symbols":{"update":{
        "shape":{"signal":"datum.value == 'Production' ? 'circle' : datum.value == 'PV' ? 'diamond' : datum.value == 'GTI' ? 'M0,-1L0.85,0.9L0,0.45L-0.85,0.9Z' : datum.value == 'Grid' ? 'M0,1L0.85,-0.9L0,-0.45L-0.85,-0.9Z' : 'square'"},
        "fill":{"signal":"{'Production':'#34C76E','PV':'#EE82EE','Generator':'#0B7F86','GTI':'#F7893B','Grid':'#8272F7'}[datum.value]"},
        "stroke":{"value":"transparent"},"strokeWidth":{"value":0},"opacity":{"value":1}}}}}}
   }},
  {"transform":[{"fold":["Battery","Consumption"],"as":["series","kw"]}],
   "mark":{"type":"line","strokeWidth":2,"strokeJoin":"round"},
   "encoding":{
    "x":{"field":"t","type":"temporal"},
    "y":{"field":"kw","type":"quantitative","scale":{"domain":[-16,16],"nice":false,"zero":false},
     "axis":{"title":"kW","titleAngle":0,"titleX":-18,"titleY":-30,"titleAlign":"right","titleBaseline":"middle","values":[-16,-8,0,8,16],"labelExpr":"'' + datum.value","grid":true,"gridColor":"#E6E6E6","labelPadding":18}},
    "stroke":{"field":"series","type":"nominal",
     "scale":{"domain":["Battery","Consumption","SOC"],"range":["#168CFF","#FDBA2D","#2F6CE0"]},
     "legend":{"orient":"none","legendX":551,"legendY":-91,"direction":"horizontal","columns":3,"title":null,"padding":0,
      "symbolSize":60,"symbolStrokeWidth":0,"labelFontSize":13.5,"labelColor":"#6E6E6E","labelOffset":7,"columnPadding":22,
      "encode":{"symbols":{"update":{
        "shape":{"signal":"datum.value == 'Battery' ? 'circle' : datum.value == 'Consumption' ? 'diamond' : 'square'"},
        "fill":{"signal":"{'Battery':'#168CFF','Consumption':'#FDBA2D','SOC':'#2F6CE0'}[datum.value]"},
        "stroke":{"value":"transparent"},"strokeWidth":{"value":0},"opacity":{"value":1}}}}}}
   }}
 ]},
 {"transform":[{"fold":["SOC"],"as":["series","pct"]}],
  "mark":{"type":"line","strokeWidth":2,"strokeJoin":"round"},
  "encoding":{
   "x":{"field":"t","type":"temporal"},
   "y":{"field":"pct","type":"quantitative","scale":{"domain":[0,100],"nice":false},
    "axis":{"orient":"right","title":"%","titleAngle":0,"titleX":32,"titleY":-30,"titleAlign":"left","titleBaseline":"middle","values":[0,25,50,75,100],"grid":false,"labelPadding":20}},
   "stroke":{"field":"series","type":"nominal","scale":{"domain":["Battery","Consumption","SOC"],"range":["#168CFF","#FDBA2D","#2F6CE0"]}}
  }}
],
"resolve":{"scale":{"y":"independent"}}
}
